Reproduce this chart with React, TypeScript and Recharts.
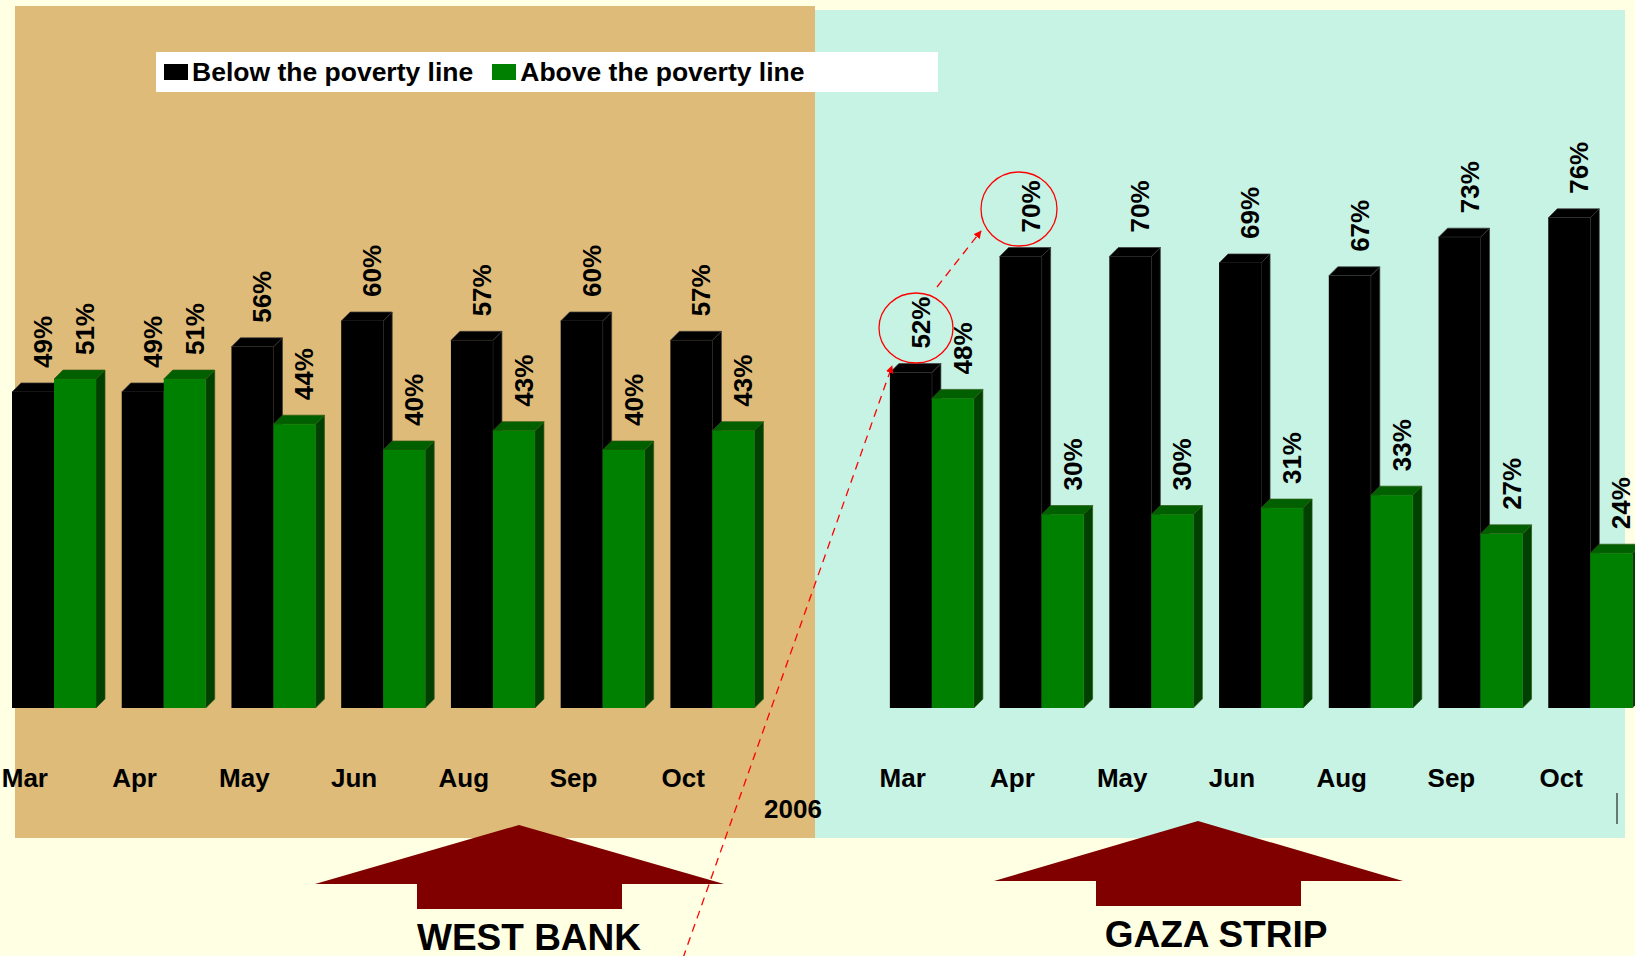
import { BarChart, Bar, XAxis, YAxis, Legend } from "recharts";

const months = ["Mar", "Apr", "May", "Jun", "Aug", "Sep", "Oct"];
const yearLabel = "2006";
const westBankBelow = [49, 49, 56, 60, 57, 60, 57];
const westBankAbove = [51, 51, 44, 40, 43, 40, 43];
const gazaBelow = [52, 70, 70, 69, 67, 73, 76];
const gazaAbove = [48, 30, 30, 31, 33, 27, 24];
const seriesNames = ["Below the poverty line", "Above the poverty line"];

const FONT = '"Liberation Sans", Arial, Helvetica, sans-serif';
const DEPTH = 9;

const chartData = [
  ...months.map((m, i) => ({ name: m, below: westBankBelow[i], above: westBankAbove[i] })),
  { name: yearLabel, below: null, above: null },
  ...months.map((m, i) => ({ name: m, below: gazaBelow[i], above: gazaAbove[i] })),
];

function Bar3D(props: any) {
  const { x, y, width, height, front, top, side, edge } = props;
  if (height == null || height <= 0) return null;
  const d = DEPTH;
  return (
    <g>
      <polygon
        points={`${x + width},${y} ${x + width + d},${y - d} ${x + width + d},${y + height - d} ${x + width},${y + height}`}
        fill={side}
        stroke={edge}
        strokeWidth={0.7}
      />
      <polygon
        points={`${x},${y} ${x + d},${y - d} ${x + width + d},${y - d} ${x + width},${y}`}
        fill={top}
        stroke={edge}
        strokeWidth={0.7}
      />
      <rect x={x} y={y} width={width} height={height} fill={front} />
    </g>
  );
}

function renderValue(props: any) {
  const { x, y, width, value } = props;
  if (value == null) return null;
  const cx = Number(x) + Number(width) / 2 + 10;
  const ty = Number(y) - 24;
  return (
    <text
      x={cx}
      y={ty}
      transform={`rotate(-90 ${cx} ${ty})`}
      textAnchor="start"
      dominantBaseline="central"
      fontFamily={FONT}
      fontWeight="bold"
      fontSize={26}
      fill="#000"
    >
      {value}%
    </text>
  );
}

function MonthTick(props: any) {
  const { x, y, payload } = props;
  const isYear = payload.value === yearLabel;
  return (
    <text
      x={x - 29}
      y={y + (isYear ? 110 : 79)}
      textAnchor="middle"
      fontFamily={FONT}
      fontWeight="bold"
      fontSize={26}
      fill="#000"
    >
      {payload.value}
    </text>
  );
}

function LegendBox({ payload }: any) {
  const items = [...(payload || [])].sort(
    (a: any, b: any) => seriesNames.indexOf(a.value) - seriesNames.indexOf(b.value)
  );
  return (
    <div
      style={{
        display: "flex",
        alignItems: "center",
        height: 40,
        paddingLeft: 8,
        fontFamily: FONT,
        fontWeight: "bold",
        fontSize: 26.5,
        color: "#000",
        whiteSpace: "nowrap",
      }}
    >
      {items.map((e: any) => (
        <span key={e.value} style={{ display: "flex", alignItems: "center", marginRight: 19 }}>
          <span style={{ width: 24, height: 16, background: e.color, marginRight: 4, display: "inline-block" }} />
          {e.value}
        </span>
      ))}
    </div>
  );
}

export default function App() {
  return (
    <div
      style={{
        position: "absolute",
        left: 0,
        top: 0,
        width: 1635,
        height: 956,
        overflow: "hidden",
        background: "#FFFFE4",
      }}
    >
      <div style={{ position: "absolute", left: 15, top: 6, width: 800, height: 832, background: "#DEBB78" }} />
      <div style={{ position: "absolute", left: 815, top: 10, width: 810, height: 828, background: "#C7F3E5" }} />

      <div style={{ position: "absolute", left: -1, top: 0 }}>
        <BarChart
          width={1646}
          height={956}
          data={chartData}
          margin={{ top: 63, right: 0, bottom: 218, left: 0 }}
          barSize={42}
          barGap={0}
        >
          <XAxis
            dataKey="name"
            height={30}
            axisLine={false}
            tickLine={false}
            tickSize={0}
            tickMargin={0}
            interval={0}
            tick={<MonthTick />}
          />
          <YAxis hide domain={[0, 100]} />
          <Legend
            layout="horizontal"
            verticalAlign="middle"
            align="center"
            content={<LegendBox />}
            wrapperStyle={{ left: 157, top: 52, width: 782, height: 40, background: "#FFFFFF" }}
          />
          <Bar
            dataKey="below"
            name={seriesNames[0]}
            fill="#000000"
            isAnimationActive={false}
            label={renderValue}
            shape={(p: any) => <Bar3D {...p} front="#000000" top="#000000" side="#000000" edge="#3c3c3c" />}
          />
          <Bar
            dataKey="above"
            name={seriesNames[1]}
            fill="#008000"
            isAnimationActive={false}
            label={renderValue}
            shape={(p: any) => <Bar3D {...p} front="#008000" top="#006000" side="#004000" edge="#2f5a12" />}
          />
        </BarChart>
      </div>

      <svg
        width={1635}
        height={956}
        style={{ position: "absolute", left: 0, top: 0, pointerEvents: "none" }}
      >
        <defs>
          <marker id="redHead" viewBox="0 0 10 10" refX="9" refY="5" markerWidth="6" markerHeight="6" orient="auto">
            <path d="M0,0 L10,5 L0,10 z" fill="#FF0000" />
          </marker>
        </defs>
        <polygon points="519,825 724,884 622,884 622,909 417,909 417,884 315,884" fill="#800000" />
        <polygon points="1198,821 1403,881 1301,881 1301,906 1096,906 1096,881 994,881" fill="#800000" />
        <text x={529} y={950} textAnchor="middle" fontFamily={FONT} fontWeight="bold" fontSize={37} fill="#000">
          WEST BANK
        </text>
        <text x={1216} y={947} textAnchor="middle" fontFamily={FONT} fontWeight="bold" fontSize={37} fill="#000">
          GAZA STRIP
        </text>
        <ellipse cx={916} cy={328} rx={37} ry={35} fill="none" stroke="#FF0000" strokeWidth={1.3} />
        <ellipse cx={1019} cy={209} rx={38} ry={37} fill="none" stroke="#FF0000" strokeWidth={1.3} />
        <line x1={683} y1={958} x2={892} y2={366} stroke="#FF0000" strokeWidth={1.3} strokeDasharray="8 6" markerEnd="url(#redHead)" />
        <line x1={937} y1={287} x2={981} y2={231} stroke="#FF0000" strokeWidth={1.3} strokeDasharray="8 6" markerEnd="url(#redHead)" />
        <line x1={1617} y1={793} x2={1617} y2={824} stroke="#000" strokeWidth={1} />
      </svg>
    </div>
  );
}
